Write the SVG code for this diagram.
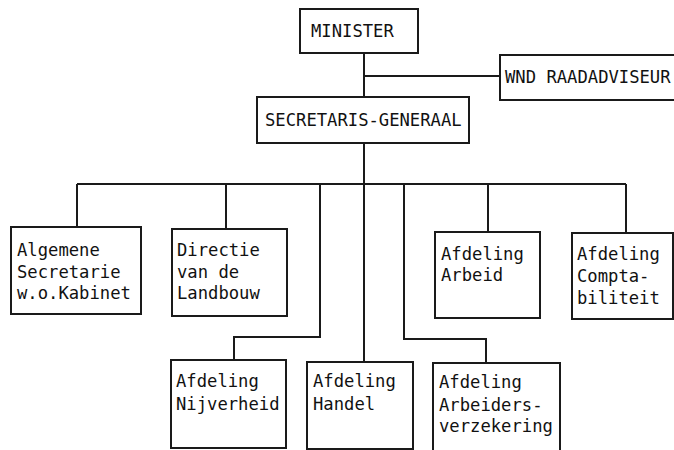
<svg xmlns="http://www.w3.org/2000/svg" width="674" height="450" viewBox="0 0 674 450">
<style>
.b{fill:#fff;stroke:#1a1a1a;stroke-width:2}
.c{fill:none;stroke:#1a1a1a;stroke-width:2}
text{font-family:"DejaVu Sans Mono","Liberation Mono",monospace;font-size:17.2px;fill:#111}
</style>
<rect width="674" height="450" fill="#fff"/>
<g id="connectors">
<path class="c" d="M364 53V97M364 76H500M364 143V184M77 184H626M77 184V227M226 184V229M488 184V232M626 184V233"/>
<path class="c" d="M364 184V362M320 184V337H234V360M404 184V339H486V363"/>
</g>
<g id="minister"><rect class="b" x="300" y="9" width="118" height="44"/><text x="311" y="37">MINISTER</text></g>
<g id="wnd"><rect class="b" x="500" y="55" width="180" height="45"/><text x="505" y="83">WND RAADADVISEUR</text></g>
<g id="sg"><rect class="b" x="257" y="97" width="212" height="46"/><text x="265" y="126">SECRETARIS-GENERAAL</text></g>
<g id="algemene"><rect class="b" x="11" y="227" width="130" height="87"/><text x="17" y="256">Algemene</text><text x="17" y="278">Secretarie</text><text x="17" y="299">w.o.Kabinet</text></g>
<g id="directie"><rect class="b" x="172" y="229" width="115" height="87"/><text x="177" y="256">Directie</text><text x="177" y="278">van de</text><text x="177" y="299">Landbouw</text></g>
<g id="arbeid"><rect class="b" x="435" y="232" width="105" height="86"/><text x="441" y="260">Afdeling</text><text x="441" y="281">Arbeid</text></g>
<g id="compta"><rect class="b" x="572" y="233" width="101" height="86"/><text x="577" y="260">Afdeling</text><text x="577" y="282">Compta-</text><text x="577" y="304">biliteit</text></g>
<g id="nijverheid"><rect class="b" x="171" y="360" width="115" height="88"/><text x="176" y="387">Afdeling</text><text x="176" y="410">Nijverheid</text></g>
<g id="handel"><rect class="b" x="307" y="362" width="106" height="87"/><text x="313" y="387">Afdeling</text><text x="313" y="410">Handel</text></g>
<g id="arbeiders"><rect class="b" x="433" y="363" width="127" height="95"/><text x="439" y="388">Afdeling</text><text x="439" y="411">Arbeiders-</text><text x="439" y="432">verzekering</text></g>
</svg>
